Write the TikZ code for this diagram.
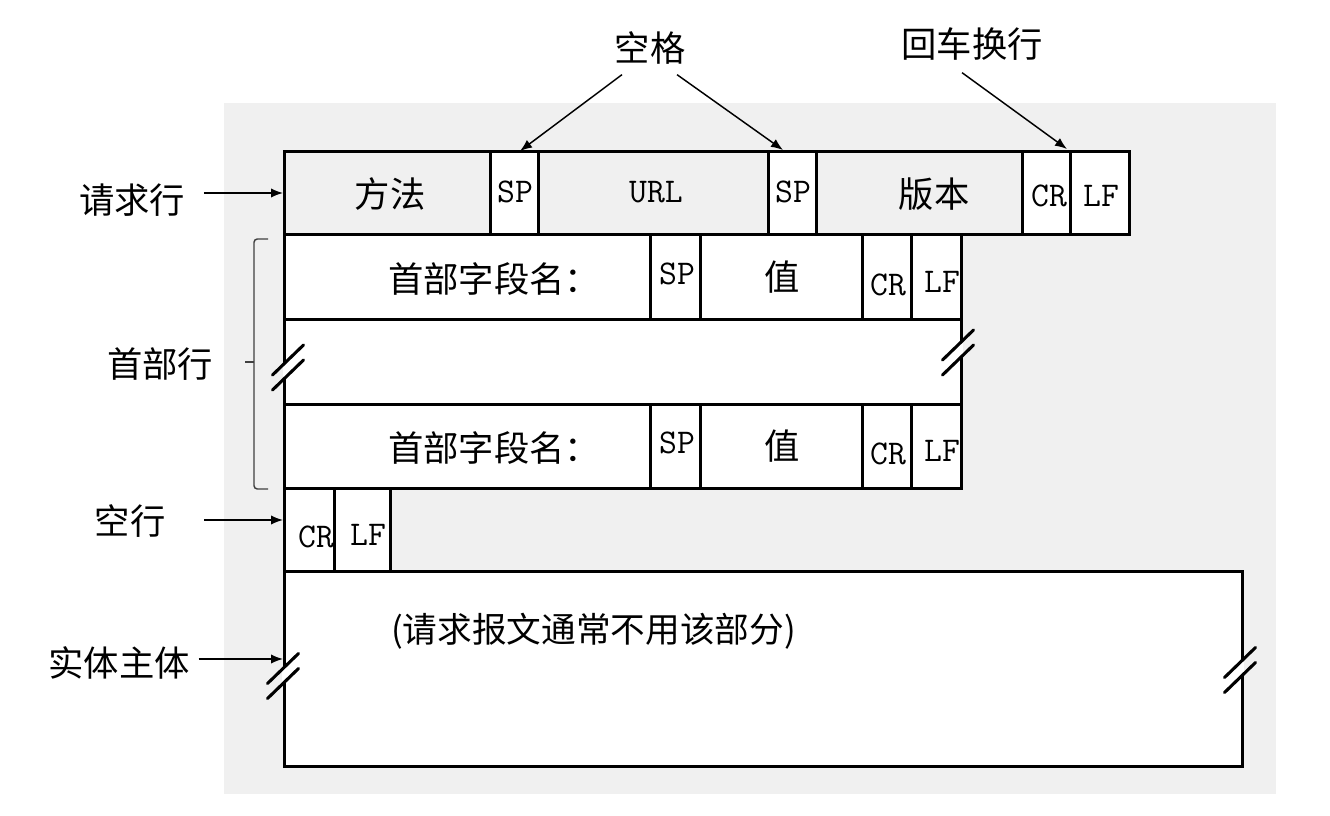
\documentclass[tikz,border=0pt]{standalone}
\usepackage{fontspec}
\usetikzlibrary{arrows.meta,calc}
\newfontfamily\cjk{Noto Sans CJK SC}
\definecolor{bggray}{RGB}{240,240,240}
\newcommand\mkcell[6]{\node[cell,fill=#6,minimum width={(#4-#2)*0.75pt},minimum height={(#5-#3)*0.75pt}] (#1) at (#2,#3) {};}
\newcommand\edgebreak[3]{%
  \draw[white,line width=2.8pt] (#1,{#3-7.5-(#1-#2)}) -- (#1,{#3+7.5-(#1-#2)});
  \draw[slash] ({#2-15.5},{#3-7.5+15}) -- ({#2+15.5},{#3-7.5-15});
  \draw[slash] ({#2-15.5},{#3+7.5+15}) -- ({#2+15.5},{#3+7.5-15});}
\begin{document}
\begin{tikzpicture}[x=0.75pt,y=-0.75pt,
  cell/.style={draw=black,line width=2.25pt,inner sep=0pt,outer sep=0pt,anchor=north west},
  zh/.style={font=\cjk\fontsize{26.5pt}{30pt}\selectfont,inner sep=0pt},
  lt/.style={font=\ttfamily\fontsize{26pt}{30pt}\selectfont,inner sep=0pt},
  arr/.style={-{Latex[length=9pt,width=7pt]},line width=1.1pt},
  slash/.style={line width=2.3pt,line cap=round},
  brace/.style={line width=1.1pt,draw=black!75,rounded corners=2.5pt}]
\useasboundingbox (0,0) rectangle (1330,816);
\fill[white] (0,0) rectangle (1330,816);
\fill[bggray] (224,103) rectangle (1276,794);
% request line
\mkcell{cm}{284}{152}{490}{235}{bggray}
\mkcell{csp1}{490}{152}{538}{235}{white}
\mkcell{curl}{538}{152}{768}{235}{bggray}
\mkcell{csp2}{768}{152}{816}{235}{white}
\mkcell{cver}{816}{152}{1022}{235}{bggray}
\mkcell{ccr}{1022}{152}{1070}{235}{white}
\mkcell{clf}{1070}{152}{1129}{235}{white}
% header row 1
\mkcell{han}{284}{235}{650}{320}{white}
\mkcell{hasp}{650}{235}{700}{320}{white}
\mkcell{hav}{700}{235}{862}{320}{white}
\mkcell{hacr}{862}{235}{911}{320}{white}
\mkcell{half}{911}{235}{961}{320}{white}
% middle
\mkcell{hmid}{284}{320}{961}{404}{white}
% header row 2
\mkcell{hbn}{284}{404}{650}{488}{white}
\mkcell{hbsp}{650}{404}{700}{488}{white}
\mkcell{hbv}{700}{404}{862}{488}{white}
\mkcell{hbcr}{862}{404}{911}{488}{white}
\mkcell{hblf}{911}{404}{961}{488}{white}
% empty line
\mkcell{ecr}{284}{488}{334}{571}{white}
\mkcell{elf}{334}{488}{390}{571}{white}
% body
\mkcell{body}{284}{571}{1242}{766}{white}
% breaks
\edgebreak{285}{288}{367.5}
\edgebreak{961}{958}{352.5}
\edgebreak{284}{283}{676}
\edgebreak{1242}{1240}{670}
% cell texts
\node[zh] (tm) at (390,194) {方法};
\node[lt] (tsp1) at (515,192) {SP};
\node[lt] (turl) at (656,192) {URL};
\node[lt] (tsp2) at (793,192) {SP};
\node[zh] (tver) at (934,194) {版本};
\node[lt] (tcr) at (1049,196) {CR};
\node[lt] (tlf) at (1101,196) {LF};
\node[zh] (tan) at (494,279) {首部字段名：};
\node[lt] (tasp) at (677,274) {SP};
\node[zh] (tav) at (782,277) {值};
\node[lt] (tacr) at (888,285) {CR};
\node[lt] (talf) at (942,282) {LF};
\node[zh] (tbn) at (494,448) {首部字段名：};
\node[lt] (tbsp) at (677,443) {SP};
\node[zh] (tbv) at (782,446) {值};
\node[lt] (tbcr) at (888,454) {CR};
\node[lt] (tblf) at (942,451) {LF};
\node[lt] (tecr) at (316,537) {CR};
\node[lt] (telf) at (368,535) {LF};
\node[zh,anchor=west,font=\cjk\fontsize{26pt}{30pt}\selectfont] (tbody) at (391,631) {(请求报文通常不用该部分)};
% labels
\node[zh] (lreq) at (132,200) {请求行};
\node[zh] (lhdr) at (160,364) {首部行};
\node[zh] (lemp) at (130,521) {空行};
\node[zh] (lbody) at (119,663) {实体主体};
\node[zh] (lsp) at (650,48) {空格};
\node[zh] (lcrlf) at (972,44) {回车换行};
% arrow tips
\coordinate (preq) at (283,193);
\coordinate (pemp) at (283,520);
\coordinate (pbody) at (283,659);
\coordinate (psp1) at (520,151);
\coordinate (psp2) at (783,150);
\coordinate (pcr) at (1067,149);
\draw[arr,shorten <=14pt] (lreq.east |- preq) -- (preq);
\draw[arr,shorten <=29pt] (lemp.east |- pemp) -- (pemp);
\draw[arr,shorten <=6.5pt] (lbody.east |- pbody) -- (pbody);
\draw[arr] ($(lsp.south)+(-28,10)$) -- (psp1);
\draw[arr] ($(lsp.south)+(27,10)$) -- (psp2);
\draw[arr] ($(lcrlf.south)+(-10,12)$) -- (pcr);
% brace
\draw[brace] (268,239) -- (254,239) -- (254,489) -- (268,489);
\draw[brace] (254,362) -- (245,362);
\end{tikzpicture}
\end{document}
